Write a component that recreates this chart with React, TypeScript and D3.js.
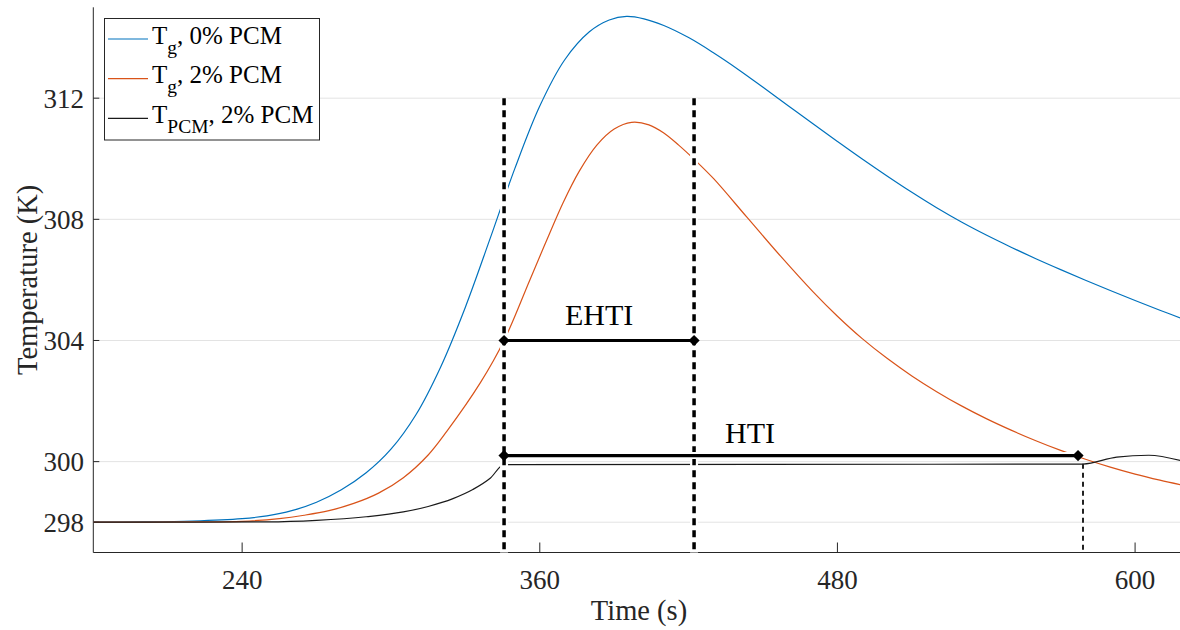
import React, { useEffect, useRef } from "react";
import * as d3 from "d3";

// series: time (s) / temperature (K)
const tg0Time = [180, 200, 220, 240, 250, 260, 270, 280, 290, 300, 310, 320, 330, 340, 350, 360, 370, 380, 388, 395, 402, 410, 420, 430, 440, 450, 460, 470, 480, 490, 500, 510, 520, 530, 540, 550, 560, 570, 580, 590, 600, 610, 620];
const tg0Temp = [298.0, 298.01, 298.04, 298.12, 298.21, 298.38, 298.66, 299.07, 299.63, 300.41, 301.54, 303.12, 305.1, 307.37, 309.69, 311.74, 313.26, 314.19, 314.58, 314.7, 314.62, 314.4, 314.0, 313.5, 312.95, 312.36, 311.76, 311.16, 310.57, 309.99, 309.43, 308.89, 308.38, 307.91, 307.48, 307.08, 306.7, 306.34, 305.99, 305.65, 305.32, 305.0, 304.69];

const tg2Time = [180, 220, 240, 255, 265, 275, 285, 295, 305, 315, 322.5, 336, 345.6, 356, 363, 369.4, 376, 383, 390, 397, 404, 410, 416, 422, 430, 443.5, 457, 470, 480, 490, 500, 510, 520, 530, 540, 550, 560, 570, 580, 590, 600, 610, 620];
const tg2Temp = [298.0, 298.01, 298.03, 298.12, 298.23, 298.38, 298.62, 298.96, 299.47, 300.22, 301.0, 302.6, 304.0, 306.0, 307.35, 308.55, 309.6, 310.45, 310.98, 311.2, 311.12, 310.85, 310.45, 310.0, 309.35, 308.07, 306.79, 305.62, 304.8, 304.06, 303.41, 302.83, 302.31, 301.84, 301.42, 301.04, 300.69, 300.37, 300.08, 299.82, 299.59, 299.39, 299.21];

const tpcmTime = [180, 250, 270, 290, 305, 315, 325, 333, 340, 345.6, 579, 592.6, 605.5, 620];
const tpcmTemp = [298.0, 298.01, 298.06, 298.18, 298.34, 298.52, 298.78, 299.08, 299.45, 299.9, 299.92, 300.15, 300.21, 300.0];

const legendMain = ["T", "T", "T"];
const legendSub = ["g", "g", "PCM"];
const legendRest = [", 0% PCM", ", 2% PCM", ", 2% PCM"];
const seriesColors = ["#0072BD", "#D95319", "#1a1a1a"];

const xTicks = [240, 360, 480, 600];
const yTicks = [298, 300, 304, 308, 312];

// annotation values
const ehtiSpan = [345.6, 422.2];
const ehtiLevel = 304;
const htiSpan = [345.6, 577];
const htiLevel = 300.2;
const thickMarks = [345.6, 422.2];
const thickTop = 312;
const thinMark = 579;
const thinTop = 299.93;

const FONT = "Liberation Serif, Times New Roman, Times, serif";
const AXIS = "#262626";

const App = () => {
  const svgRef = useRef<SVGSVGElement>(null);

  useEffect(() => {
    document.body.style.margin = "0";
    const svg = d3.select(svgRef.current);
    svg.selectAll("*").remove();

    const width = 1180;
    const height = 630;
    const left = 93.3;
    const right = 1184.7;
    const top = 7.3;
    const bottom = 552.5;

    const x = d3.scaleLinear().domain([180, 620]).range([left, right]);
    const y = d3.scaleLinear().domain([297, 315]).range([bottom, top]);

    svg.append("rect").attr("width", width).attr("height", height).attr("fill", "#fff");

    svg.append("defs").append("clipPath").attr("id", "plotclip")
      .append("rect").attr("x", left).attr("y", top).attr("width", right - left).attr("height", bottom - top);

    // horizontal grid
    svg.append("g").selectAll("line").data(yTicks).enter().append("line")
      .attr("x1", left).attr("x2", right)
      .attr("y1", (d) => y(d)).attr("y2", (d) => y(d))
      .attr("stroke", "#e3e3e3").attr("stroke-width", 1);

    // axes
    const ax = svg.append("g").attr("stroke", AXIS).attr("stroke-width", 1);
    ax.append("line").attr("x1", left).attr("x2", left).attr("y1", top).attr("y2", bottom);
    ax.append("line").attr("x1", left).attr("x2", right).attr("y1", bottom).attr("y2", bottom);
    ax.selectAll(".xt").data(xTicks).enter().append("line").attr("class", "xt")
      .attr("x1", (d) => x(d)).attr("x2", (d) => x(d))
      .attr("y1", bottom).attr("y2", bottom - 10);
    ax.selectAll(".yt").data(yTicks).enter().append("line").attr("class", "yt")
      .attr("x1", left).attr("x2", left + 6)
      .attr("y1", (d) => y(d)).attr("y2", (d) => y(d));

    svg.append("g").selectAll("text").data(xTicks).enter().append("text")
      .attr("x", (d) => x(d)).attr("y", 589)
      .attr("text-anchor", "middle")
      .attr("font-family", FONT).attr("font-size", 27).attr("fill", AXIS)
      .text((d) => d);
    svg.append("g").selectAll("text").data(yTicks).enter().append("text")
      .attr("x", 84).attr("y", (d) => y(d)).attr("dy", "0.35em")
      .attr("text-anchor", "end")
      .attr("font-family", FONT).attr("font-size", 27).attr("fill", AXIS)
      .text((d) => d);

    svg.append("text")
      .attr("x", (left + right) / 2).attr("y", 620)
      .attr("text-anchor", "middle")
      .attr("font-family", FONT).attr("font-size", 28.5).attr("fill", AXIS)
      .text("Time (s)");
    svg.append("text")
      .attr("transform", `translate(37, ${(top + bottom) / 2}) rotate(-90)`)
      .attr("text-anchor", "middle")
      .attr("font-family", FONT).attr("font-size", 28.5).attr("fill", AXIS)
      .text("Temperature (K)");

    // curves
    const smooth = d3.line<[number, number]>()
      .x((d) => x(d[0])).y((d) => y(d[1]))
      .curve(d3.curveCatmullRom.alpha(0.5));
    const mono = d3.line<[number, number]>()
      .x((d) => x(d[0])).y((d) => y(d[1]))
      .curve(d3.curveMonotoneX);
    const series: [number, number][][] = [
      tg0Time.map((t, i) => [t, tg0Temp[i]]),
      tg2Time.map((t, i) => [t, tg2Temp[i]]),
      tpcmTime.map((t, i) => [t, tpcmTemp[i]]),
    ];
    const curves = svg.append("g").attr("clip-path", "url(#plotclip)");
    series.forEach((s, i) => {
      curves.append("path").datum(s)
        .attr("d", i < 2 ? smooth : mono)
        .attr("fill", "none")
        .attr("stroke", seriesColors[i])
        .attr("stroke-width", 1.2);
    });

    // annotations
    const ann = svg.append("g");
    thickMarks.forEach((t) => {
      ann.append("line")
        .attr("x1", x(t)).attr("x2", x(t)).attr("y1", y(thickTop)).attr("y2", y(297))
        .attr("stroke", "#fff").attr("stroke-width", 8);
      ann.append("line")
        .attr("x1", x(t)).attr("x2", x(t)).attr("y1", y(thickTop)).attr("y2", y(297))
        .attr("stroke", "#000").attr("stroke-width", 3.5).attr("stroke-dasharray", "7,5");
    });
    ann.append("line")
      .attr("x1", x(thinMark)).attr("x2", x(thinMark)).attr("y1", y(thinTop)).attr("y2", y(297))
      .attr("stroke", "#222").attr("stroke-width", 2).attr("stroke-dasharray", "5,4");

    const spans: [number[], number][] = [[ehtiSpan, ehtiLevel], [htiSpan, htiLevel]];
    spans.forEach(([sp, lv]) => {
      ann.append("line")
        .attr("x1", x(sp[0])).attr("x2", x(sp[1])).attr("y1", y(lv)).attr("y2", y(lv))
        .attr("stroke", "#fff").attr("stroke-width", 7);
      ann.append("line")
        .attr("x1", x(sp[0])).attr("x2", x(sp[1])).attr("y1", y(lv)).attr("y2", y(lv))
        .attr("stroke", "#000").attr("stroke-width", 3.2);
      sp.forEach((t) => {
        ann.append("path")
          .attr("d", d3.symbol().type(d3.symbolDiamond2).size(80)())
          .attr("transform", `translate(${x(t)}, ${y(lv)})`)
          .attr("fill", "#000");
      });
    });

    ann.append("text")
      .attr("x", x((ehtiSpan[0] + ehtiSpan[1]) / 2)).attr("y", 325)
      .attr("text-anchor", "middle")
      .attr("font-family", FONT).attr("font-size", 30).attr("fill", "#000")
      .text("EHTI");
    ann.append("text")
      .attr("x", 750).attr("y", 443)
      .attr("text-anchor", "middle")
      .attr("font-family", FONT).attr("font-size", 30).attr("fill", "#000")
      .text("HTI");

    // legend
    const lg = svg.append("g");
    lg.append("rect")
      .attr("x", 104.5).attr("y", 18.5).attr("width", 215).attr("height", 121.5)
      .attr("fill", "#fff").attr("stroke", AXIS).attr("stroke-width", 1);
    legendMain.forEach((m, i) => {
      const cy = 39 + 39.7 * i;
      lg.append("line")
        .attr("x1", 108).attr("x2", 148).attr("y1", cy).attr("y2", cy)
        .attr("stroke", seriesColors[i]).attr("stroke-width", 1.2);
      const tx = lg.append("text")
        .attr("x", 152).attr("y", cy + 4.5)
        .attr("font-family", FONT).attr("font-size", 25).attr("fill", "#000");
      tx.append("tspan").text(m);
      tx.append("tspan").attr("font-size", 19.5).attr("dy", 10).text(legendSub[i]);
      tx.append("tspan").attr("dy", -10).text(legendRest[i]);
    });
  }, []);

  return <svg ref={svgRef} width={1180} height={630} style={{ display: "block" }}></svg>;
};

export default App;
